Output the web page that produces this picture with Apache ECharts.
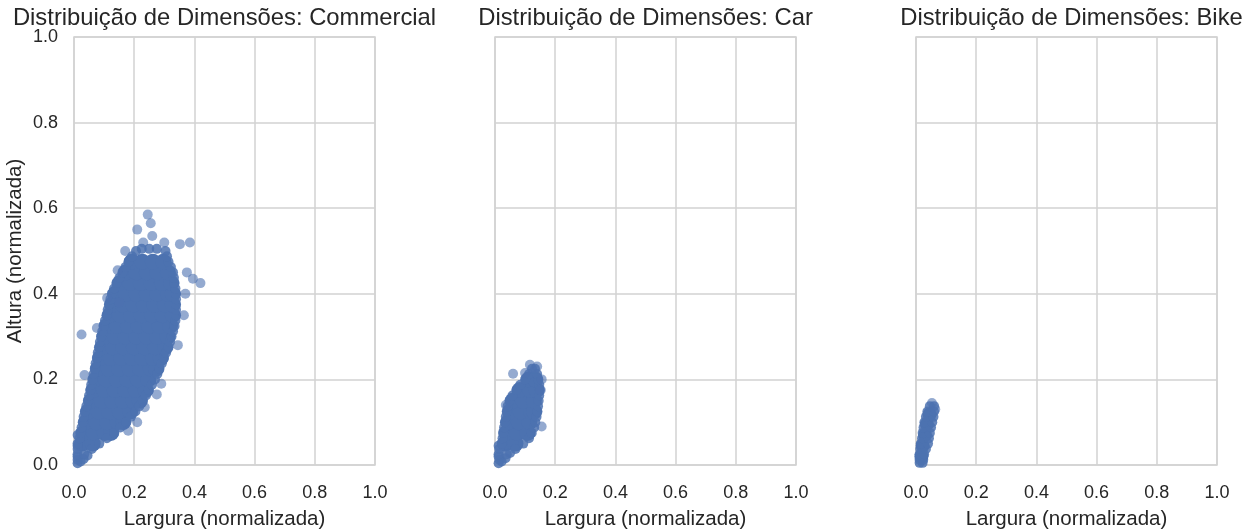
<!DOCTYPE html>
<html>
<head>
<meta charset="utf-8">
<script src="https://cdn.jsdelivr.net/npm/echarts@6/dist/echarts.min.js"></script>
<style>html,body{margin:0;padding:0;background:#fff;}#chart{width:1247px;height:529px;}</style>
</head>
<body>
<div id="chart"></div>
<script>
// ---- Data ----
const panelTitles = ['Distribuição de Dimensões: Commercial', 'Distribuição de Dimensões: Car', 'Distribuição de Dimensões: Bike'];
const xTickLabels = ['0.0', '0.2', '0.4', '0.6', '0.8', '1.0'];
const yTickLabels = ['0.0', '0.2', '0.4', '0.6', '0.8', '1.0'];
const xAxisTitle = 'Largura (normalizada)';
const yAxisTitle = 'Altura (normalizada)';

// Commercial: dense interior points [largura, altura]
const commercialCore = [
[0.027,0.05],[0.062,0.05],
[0.032,0.075],[0.067,0.075],[0.102,0.075],[0.123,0.075],
[0.04,0.1],[0.075,0.1],[0.11,0.1],[0.145,0.1],[0.163,0.1],
[0.047,0.125],[0.082,0.125],[0.117,0.125],[0.152,0.125],[0.187,0.125],
[0.057,0.15],[0.092,0.15],[0.127,0.15],[0.162,0.15],[0.197,0.15],[0.218,0.15],
[0.065,0.175],[0.1,0.175],[0.135,0.175],[0.17,0.175],[0.205,0.175],[0.238,0.175],
[0.072,0.2],[0.107,0.2],[0.142,0.2],[0.177,0.2],[0.212,0.2],[0.247,0.2],
[0.08,0.225],[0.115,0.225],[0.15,0.225],[0.185,0.225],[0.22,0.225],[0.255,0.225],[0.273,0.225],
[0.087,0.25],[0.122,0.25],[0.157,0.25],[0.192,0.25],[0.227,0.25],[0.262,0.25],[0.288,0.25],
[0.094,0.275],[0.129,0.275],[0.164,0.275],[0.199,0.275],[0.234,0.275],[0.269,0.275],[0.303,0.275],
[0.101,0.3],[0.136,0.3],[0.171,0.3],[0.206,0.3],[0.241,0.3],[0.276,0.3],[0.311,0.3],
[0.109,0.325],[0.144,0.325],[0.179,0.325],[0.214,0.325],[0.249,0.325],[0.284,0.325],[0.319,0.325],
[0.119,0.35],[0.154,0.35],[0.189,0.35],[0.224,0.35],[0.259,0.35],[0.294,0.35],[0.328,0.35],
[0.127,0.375],[0.162,0.375],[0.197,0.375],[0.232,0.375],[0.267,0.375],[0.302,0.375],[0.328,0.375],
[0.137,0.4],[0.172,0.4],[0.207,0.4],[0.242,0.4],[0.277,0.4],[0.312,0.4],[0.328,0.4],
[0.152,0.425],[0.187,0.425],[0.222,0.425],[0.257,0.425],[0.292,0.425],[0.323,0.425],
[0.172,0.45],[0.207,0.45],[0.242,0.45],[0.277,0.45],[0.312,0.45],
[0.192,0.475],[0.227,0.475],[0.262,0.475],[0.297,0.475]
];
// Commercial: points along the edge of the cloud
const commercialEdge = [
[0.012,0.004],[0.022,0.008],[0.032,0.014],[0.045,0.022],[0.012,0.02],[0.012,0.045],[0.012,0.07],
[0.012,0.0125],
[0.012,0.025],[0.034,0.025],[0.012,0.0375],[0.059,0.0375],[0.012,0.05],[0.084,0.05],
[0.018,0.0625],[0.109,0.0625],[0.021,0.075],[0.134,0.075],[0.025,0.0875],[0.154,0.0875],
[0.029,0.1],[0.174,0.1],[0.032,0.1125],[0.189,0.1125],[0.036,0.125],[0.204,0.125],
[0.041,0.1375],[0.217,0.1375],[0.046,0.15],[0.229,0.15],[0.05,0.1625],[0.239,0.1625],
[0.054,0.175],[0.249,0.175],[0.057,0.1875],[0.259,0.1875],[0.061,0.2],[0.269,0.2],
[0.065,0.2125],[0.277,0.2125],[0.069,0.225],[0.284,0.225],[0.072,0.2375],[0.292,0.2375],
[0.076,0.25],[0.299,0.25],[0.079,0.2625],[0.306,0.2625],[0.083,0.275],[0.314,0.275],
[0.086,0.2875],[0.319,0.2875],[0.09,0.3],[0.324,0.3],[0.094,0.3125],[0.329,0.3125],
[0.098,0.325],[0.334,0.325],[0.103,0.3375],[0.337,0.3375],[0.108,0.35],[0.339,0.35],
[0.112,0.3625],[0.339,0.3625],[0.116,0.375],[0.339,0.375],[0.121,0.3875],[0.339,0.3875],
[0.126,0.4],[0.339,0.4],[0.133,0.4125],[0.337,0.4125],[0.141,0.425],[0.334,0.425],
[0.151,0.4375],[0.332,0.4375],[0.161,0.45],[0.329,0.45],[0.171,0.4625],[0.322,0.4625],
[0.181,0.475],[0.314,0.475],[0.193,0.4875],[0.309,0.4875],[0.206,0.5],[0.304,0.5],
[0.225,0.505],[0.25,0.505],[0.275,0.505]
];
// Commercial: scattered outliers
const commercialOutliers = [
[0.025,0.305],[0.076,0.32],[0.11,0.39],[0.245,0.585],[0.255,0.565],[0.21,0.55],[0.26,0.535],
[0.23,0.52],[0.3,0.52],[0.385,0.52],[0.352,0.516],[0.42,0.425],[0.395,0.435],[0.375,0.45],
[0.37,0.4],[0.365,0.35],[0.29,0.19],[0.21,0.1],[0.145,0.455],[0.035,0.21],[0.18,0.08],
[0.235,0.135],[0.275,0.165],[0.345,0.28],[0.17,0.5],[0.15,0.38]
];

// Car
const carCore = [
[0.033,0.05],[0.068,0.05],
[0.038,0.075],[0.073,0.075],[0.108,0.075],
[0.044,0.1],[0.079,0.1],[0.114,0.1],
[0.05,0.125],[0.085,0.125],[0.12,0.125],[0.13,0.125],
[0.059,0.15],[0.094,0.15],[0.129,0.15],
[0.082,0.175],[0.117,0.175],[0.138,0.175],
[0.112,0.2],[0.133,0.2]
];
const carEdge = [
[0.012,0.004],[0.022,0.008],[0.035,0.016],[0.05,0.028],[0.012,0.02],[0.012,0.045],
[0.015,0.0125],[0.012,0.025],[0.039,0.025],[0.014,0.0375],[0.068,0.0375],[0.022,0.05],[0.094,0.05],
[0.025,0.0625],[0.113,0.0625],[0.027,0.075],[0.122,0.075],[0.03,0.0875],[0.13,0.0875],
[0.033,0.1],[0.134,0.1],[0.036,0.1125],[0.138,0.1125],[0.039,0.125],[0.141,0.125],
[0.042,0.1375],[0.143,0.1375],[0.048,0.15],[0.145,0.15],[0.058,0.1625],[0.147,0.1625],
[0.071,0.175],[0.149,0.175],[0.084,0.1875],[0.147,0.1875],[0.1,0.2],[0.144,0.2],
[0.113,0.2125],[0.14,0.2125],[0.123,0.225],[0.133,0.225]
];
const carOutliers = [
[0.116,0.234],[0.14,0.23],[0.06,0.213],[0.1,0.215],[0.155,0.09],[0.152,0.175],[0.036,0.14],[0.155,0.2]
];

// Bike
const bikeCore = [[0.018,0.02],[0.022,0.045],[0.03,0.07],[0.036,0.095],[0.045,0.118]];
const bikeEdge = [
[0.012,0.005],[0.022,0.005],[0.012,0.0125],[0.024,0.0125],[0.012,0.025],[0.027,0.025],
[0.014,0.0375],[0.033,0.0375],[0.016,0.05],[0.04,0.05],[0.02,0.0625],[0.043,0.0625],
[0.022,0.075],[0.046,0.075],[0.025,0.0875],[0.05,0.0875],[0.028,0.1],[0.054,0.1],
[0.033,0.1125],[0.058,0.1125],[0.038,0.125],[0.06,0.125],[0.046,0.1375],[0.06,0.1375]
];
const bikeOutliers = [[0.053,0.145],[0.064,0.13]];

// ---- Chart ----
const FONT = '"Liberation Sans", Arial, sans-serif';
const TEXT = '#262626';
const GRIDC = '#d2d2d2';
const BLUE = '#4c72b0';
const gridLefts = [74, 495, 916];
const titleShift = [-5, -5, 0];
const gridW = 301, gridTop = 37, gridH = 428;

const chart = echarts.init(document.getElementById('chart'), null, {renderer: 'canvas'});

const grids = gridLefts.map(l => ({left: l, top: gridTop, width: gridW, height: gridH,
  outerBoundsMode: 'none', containLabel: false,
  show: true, borderColor: GRIDC, borderWidth: 1.5, backgroundColor: '#fff'}));

const titles = panelTitles.map((t, i) => ({
  text: t, left: gridLefts[i] + gridW / 2 + titleShift[i], top: 1, textAlign: 'center',
  textStyle: {fontFamily: FONT, fontSize: 23.8, fontWeight: 'normal', color: TEXT}
}));

const xAxes = gridLefts.map((l, i) => ({
  gridIndex: i, type: 'value', min: 0, max: 1, interval: 0.2,
  axisLine: {show: false}, axisTick: {show: false},
  splitLine: {show: true, lineStyle: {color: GRIDC, width: 1.5}},
  axisLabel: {fontFamily: FONT, fontSize: 18, color: TEXT, margin: 19,
    formatter: v => xTickLabels[Math.round(v / 0.2)]},
  name: xAxisTitle, nameLocation: 'middle', nameGap: 44,
  nameTextStyle: {fontFamily: FONT, fontSize: 20.5, color: TEXT}
}));

const yAxes = gridLefts.map((l, i) => ({
  gridIndex: i, type: 'value', min: 0, max: 1, interval: 0.2,
  axisLine: {show: false}, axisTick: {show: false},
  splitLine: {show: true, lineStyle: {color: GRIDC, width: 1.5}},
  axisLabel: {show: i === 0, fontFamily: FONT, fontSize: 18, color: TEXT, margin: 16,
    formatter: v => yTickLabels[Math.round(v / 0.2)]},
  name: i === 0 ? yAxisTitle : '', nameLocation: 'middle', nameGap: 48,
  nameTextStyle: {fontFamily: FONT, fontSize: 20.5, color: TEXT}
}));

function scatter(data, idx, size, opacity) {
  return {type: 'scatter', xAxisIndex: idx, yAxisIndex: idx, data: data,
    symbolSize: size, silent: true, clip: false,
    itemStyle: {color: BLUE, opacity: opacity}};
}

chart.setOption({
  animation: false,
  backgroundColor: '#fff',
  title: titles,
  grid: grids,
  xAxis: xAxes,
  yAxis: yAxes,
  series: [
    scatter(commercialCore, 0, 16, 1), scatter(commercialEdge, 0, 10, 0.85), scatter(commercialOutliers, 0, 10, 0.6),
    scatter(carCore, 1, 16, 1), scatter(carEdge, 1, 10, 0.85), scatter(carOutliers, 1, 10, 0.6),
    scatter(bikeCore, 2, 14, 1), scatter(bikeEdge, 2, 10, 0.85), scatter(bikeOutliers, 2, 10, 0.6)
  ]
});
</script>
</body>
</html>
